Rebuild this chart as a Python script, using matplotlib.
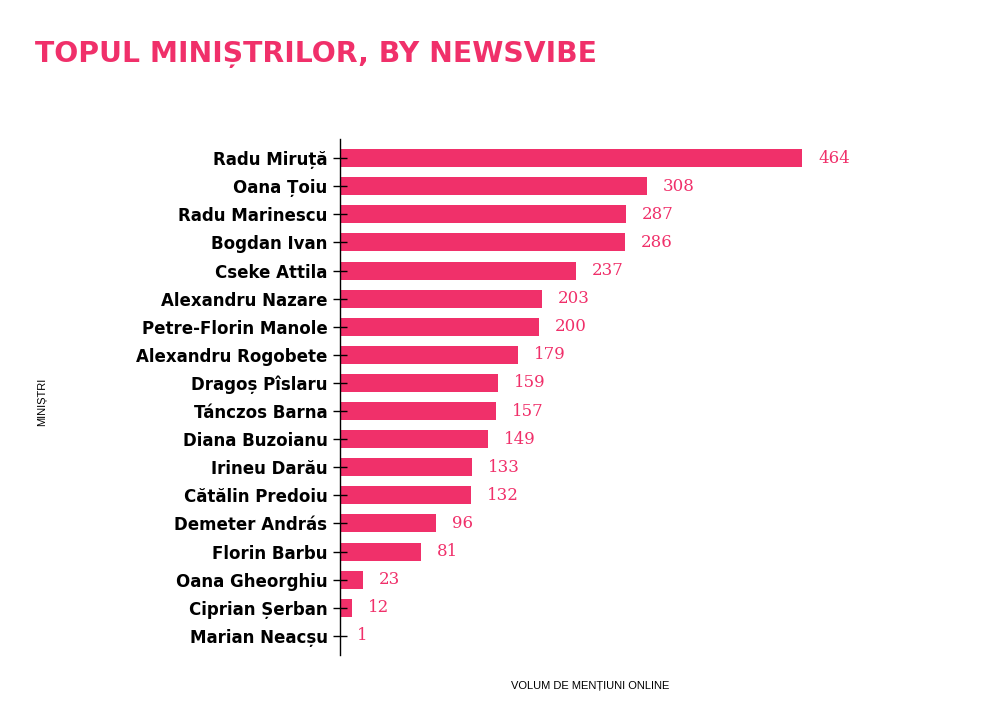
import matplotlib
matplotlib.use("Agg")
import matplotlib.pyplot as plt

names = ["Radu Miruță", "Oana Țoiu", "Radu Marinescu", "Bogdan Ivan", "Cseke Attila",
         "Alexandru Nazare", "Petre-Florin Manole", "Alexandru Rogobete", "Dragoș Pîslaru",
         "Tánczos Barna", "Diana Buzoianu", "Irineu Darău", "Cătălin Predoiu",
         "Demeter András", "Florin Barbu", "Oana Gheorghiu", "Ciprian Șerban", "Marian Neacșu"]
values = [464, 308, 287, 286, 237, 203, 200, 179, 159, 157, 149, 133, 132, 96, 81, 23, 12, 1]

title = "TOPUL MINIȘTRILOR, BY NEWSVIBE"
xlabel = "VOLUM DE MENȚIUNI ONLINE"
ylabel = "MINIȘTRI"

pink = "#F0306A"

fig = plt.figure(figsize=(9.92, 7.06), dpi=100)
ax = fig.add_axes([340/992, 1-655/706, 500/992, (655-139)/706])

ypos = list(range(len(names)))
ax.barh(ypos, values, height=0.64, color=pink)
ax.set_xlim(0, 502)
ax.set_ylim(len(names) - 1 + 0.68, -0.68)

for y, v in zip(ypos, values):
    ax.text(v + 16, y, str(v), va="center", ha="left", color=pink,
            fontsize=12, family="DejaVu Serif")

ax.set_yticks(ypos)
ax.set_yticklabels(names, fontsize=12, fontweight="bold", family="DejaVu Sans")
ax.tick_params(axis="y", direction="inout", length=10, width=1, pad=4)
ax.set_xticks([])
for s in ["top", "right", "bottom"]:
    ax.spines[s].set_visible(False)
ax.spines["left"].set_linewidth(1)

fig.text(35/992, 1-54/706, title, fontsize=20.3, fontweight="bold", color=pink,
         family="DejaVu Sans", va="center", ha="left")
fig.text(590/992, 1-686/706, xlabel, fontsize=8, family="Liberation Sans",
         ha="center", va="center")
fig.text(42/992, 1-402/706, ylabel, fontsize=8, family="Liberation Sans",
         ha="center", va="center", rotation=90)

fig.savefig("out.png", dpi=100, facecolor="white")
